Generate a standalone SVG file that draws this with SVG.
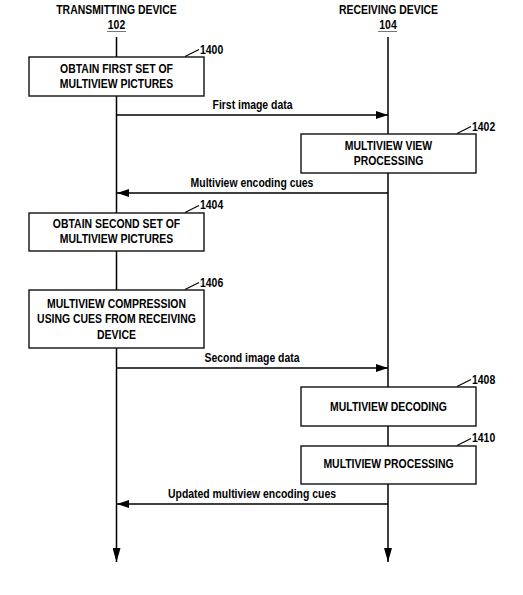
<svg xmlns="http://www.w3.org/2000/svg" width="523" height="595" viewBox="0 0 523 595">
<style>
.t{font-family:"Liberation Sans",Arial,sans-serif;font-weight:bold;font-size:12px;fill:#000}
.m{text-anchor:middle}
.box{fill:#fff;stroke:#111;stroke-width:1.4}
.life{stroke:#000;stroke-width:1.5;fill:none}
.msg{stroke:#000;stroke-width:1.3;fill:none}
.lead{stroke:#000;stroke-width:1.2;fill:none}
</style>
<defs>
<marker id="ah" viewBox="0 0 12 8" refX="12" refY="4" markerWidth="12" markerHeight="8" markerUnits="userSpaceOnUse" orient="auto">
<path d="M0,0 L12,4 L0,8 Z" fill="#000"/>
</marker>
<marker id="ahl" viewBox="0 0 14 8" refX="14" refY="4" markerWidth="14" markerHeight="8" markerUnits="userSpaceOnUse" orient="auto">
<path d="M0,0 L14,4 L0,8 Z" fill="#000"/>
</marker>
</defs>
<g id="headers">
<text class="t m" transform="translate(116.5,14.3) scale(0.87,1)">TRANSMITTING DEVICE</text>
<text class="t m" transform="translate(116.5,29.3) scale(0.87,1)">102</text>
<line x1="107" y1="31.5" x2="126" y2="31.5" stroke="#777" stroke-width="1"/>
<text class="t m" transform="translate(388.5,14.3) scale(0.87,1)">RECEIVING DEVICE</text>
<text class="t m" transform="translate(388,29.3) scale(0.87,1)">104</text>
<line x1="378" y1="31.5" x2="397" y2="31.5" stroke="#777" stroke-width="1"/>
</g>
<g id="connectors">
<line class="life" x1="116.5" y1="37" x2="116.5" y2="562" marker-end="url(#ahl)"/>
<line class="life" x1="388" y1="37" x2="388" y2="562" marker-end="url(#ahl)"/>
<line class="msg" x1="116.5" y1="115" x2="388" y2="115" marker-end="url(#ah)"/>
<text class="t m" transform="translate(252.5,109) scale(0.87,1)">First image data</text>
<line class="msg" x1="388" y1="193" x2="117" y2="193" marker-end="url(#ah)"/>
<text class="t m" transform="translate(252,187) scale(0.87,1)">Multiview encoding cues</text>
<line class="msg" x1="116.5" y1="368" x2="388" y2="368" marker-end="url(#ah)"/>
<text class="t m" transform="translate(252,361.5) scale(0.87,1)">Second image data</text>
<line class="msg" x1="388" y1="504" x2="117" y2="504" marker-end="url(#ah)"/>
<text class="t m" transform="translate(252,498) scale(0.87,1)">Updated multiview encoding cues</text>
</g>
<g id="n1400">
<rect class="box" x="29" y="57" width="175" height="39"/>
<text class="t m" transform="translate(116.5,73.3) scale(0.87,1)">OBTAIN FIRST SET OF</text>
<text class="t m" transform="translate(116.5,88.3) scale(0.87,1)">MULTIVIEW PICTURES</text>
<line class="lead" x1="185" y1="56.5" x2="199" y2="49.5"/>
<text class="t" transform="translate(200,53.5) scale(0.87,1)">1400</text>
</g>
<g id="n1402">
<rect class="box" x="301" y="134" width="175" height="39"/>
<text class="t m" transform="translate(388.5,150.3) scale(0.87,1)">MULTIVIEW VIEW</text>
<text class="t m" transform="translate(388.5,165.3) scale(0.87,1)">PROCESSING</text>
<line class="lead" x1="457" y1="133.5" x2="471" y2="126.5"/>
<text class="t" transform="translate(472,131.3) scale(0.87,1)">1402</text>
</g>
<g id="n1404">
<rect class="box" x="29" y="213" width="175" height="38"/>
<text class="t m" transform="translate(116.5,228.3) scale(0.87,1)">OBTAIN SECOND SET OF</text>
<text class="t m" transform="translate(116.5,243.3) scale(0.87,1)">MULTIVIEW PICTURES</text>
<line class="lead" x1="185" y1="212.5" x2="199" y2="205.5"/>
<text class="t" transform="translate(200,209.3) scale(0.87,1)">1404</text>
</g>
<g id="n1406">
<rect class="box" x="29" y="290" width="175" height="58"/>
<text class="t m" transform="translate(116.5,307.5) scale(0.87,1)">MULTIVIEW COMPRESSION</text>
<text class="t m" transform="translate(116.5,323) scale(0.87,1)">USING CUES FROM RECEIVING</text>
<text class="t m" transform="translate(116.5,338.5) scale(0.87,1)">DEVICE</text>
<line class="lead" x1="185" y1="289.5" x2="199" y2="282.5"/>
<text class="t" transform="translate(200,287.3) scale(0.87,1)">1406</text>
</g>
<g id="n1408">
<rect class="box" x="301" y="387" width="175" height="39"/>
<text class="t m" transform="translate(388.5,411.3) scale(0.87,1)">MULTIVIEW DECODING</text>
<line class="lead" x1="457" y1="386.5" x2="471" y2="379.5"/>
<text class="t" transform="translate(472,384.3) scale(0.87,1)">1408</text>
</g>
<g id="n1410">
<rect class="box" x="301" y="446" width="175" height="38"/>
<text class="t m" transform="translate(388.5,468.3) scale(0.87,1)">MULTIVIEW PROCESSING</text>
<line class="lead" x1="457" y1="445.5" x2="471" y2="438.5"/>
<text class="t" transform="translate(472,442.3) scale(0.87,1)">1410</text>
</g>
</svg>
